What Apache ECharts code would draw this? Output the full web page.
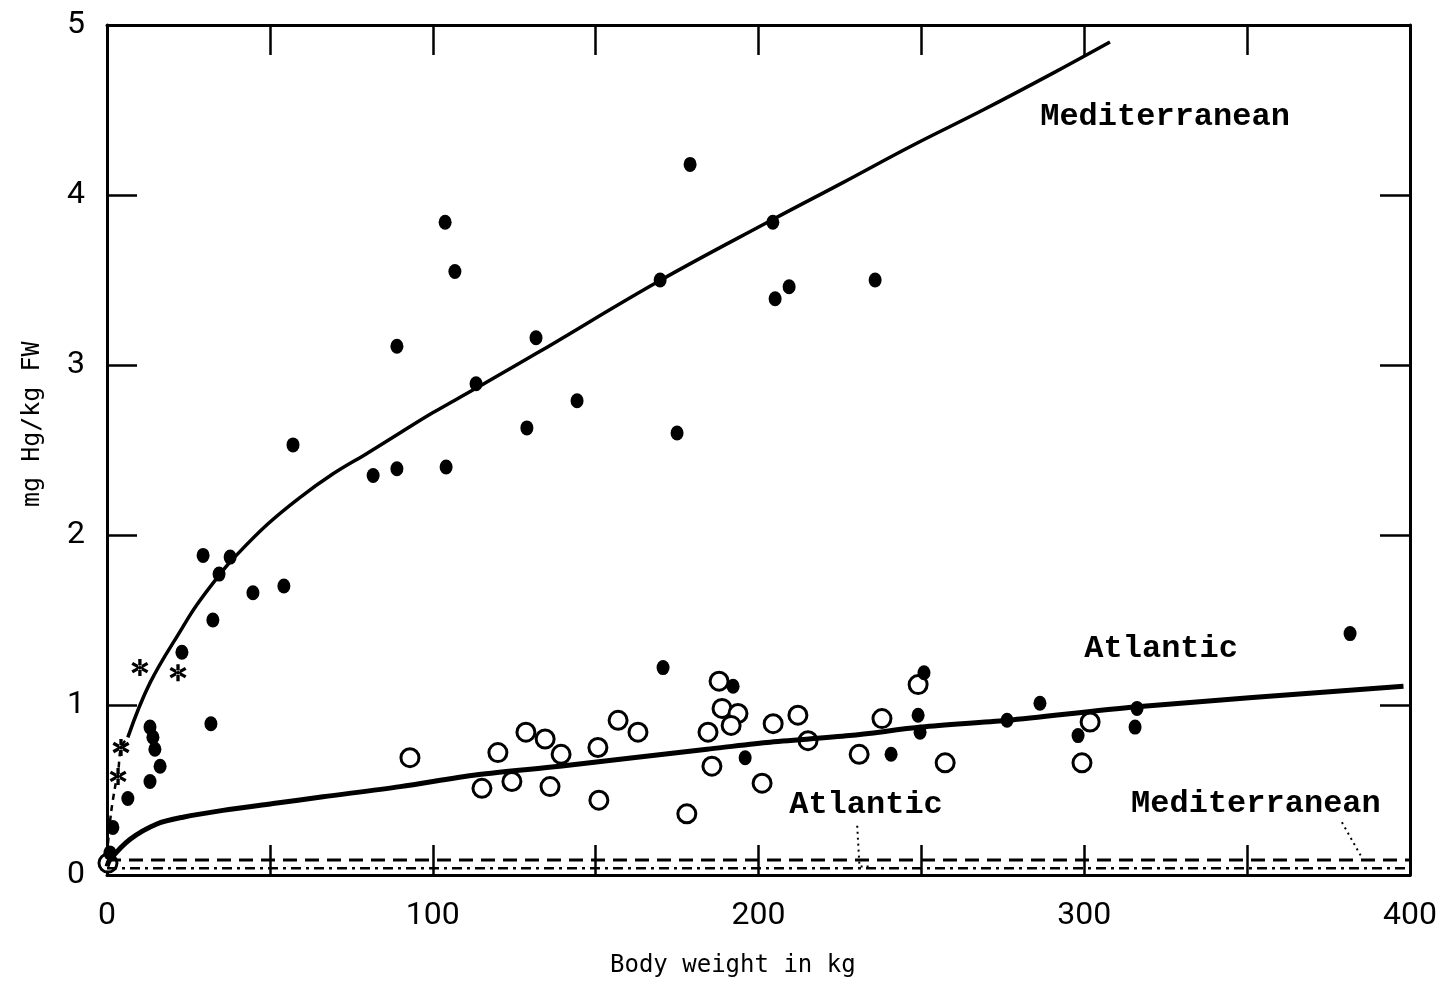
<!DOCTYPE html>
<html><head><meta charset="utf-8">
<script src="https://cdn.jsdelivr.net/npm/echarts@6/dist/echarts.min.js"></script>
<style>html,body{margin:0;padding:0;background:#fff;} #c{width:1450px;height:984px;}</style>
</head><body><div id="c"></div>
<script>
// ---- data (body weight kg, mg Hg/kg FW) ----
const filledDots = [
  [103.8,3.84],[106.8,3.55],[179.0,4.18],[204.4,3.84],[205.1,3.39],[209.4,3.46],[235.8,3.50],
  [169.8,3.50],[89.0,3.11],[131.7,3.16],[113.3,2.89],[144.3,2.79],[128.9,2.63],[175.0,2.60],
  [57.1,2.53],[81.7,2.35],[89.0,2.39],[104.1,2.40],[29.5,1.88],[37.8,1.87],[34.4,1.77],
  [44.8,1.66],[54.3,1.70],[32.5,1.50],[23.0,1.31],[31.9,0.89],[13.2,0.87],[14.1,0.81],
  [14.7,0.74],[16.3,0.64],[13.2,0.55],[6.4,0.45],[1.8,0.28],[0.9,0.13],
  [170.7,1.22],[192.2,1.11],[195.9,0.69],[240.7,0.71],[249.0,0.94],[249.6,0.84],[250.8,1.19],
  [276.3,0.91],[286.4,1.01],[298.1,0.82],[316.2,0.98],[315.6,0.87],[381.6,1.42]
];
const openCircles = [
  [0.3,0.07],[93.0,0.69],[115.1,0.51],[120.0,0.72],[124.3,0.55],[128.6,0.84],[134.5,0.80],
  [136.0,0.52],[139.4,0.71],[150.7,0.75],[151.0,0.44],[156.9,0.91],[163.0,0.84],[178.0,0.36],
  [187.9,1.14],[188.8,0.98],[193.7,0.95],[191.6,0.88],[184.5,0.84],[185.7,0.64],[201.1,0.54],
  [204.5,0.89],[212.1,0.94],[215.2,0.79],[230.9,0.71],[237.9,0.92],[249.0,1.12],[257.3,0.66],
  [301.8,0.90],[299.3,0.66]
];
const stars = [[10.1,1.22],[21.8,1.19],[4.3,0.75],[3.4,0.58]];
const medCurve = [
  [6.4,0.81],[13.2,1.13],[23.3,1.46],[27.6,1.59],[34.7,1.77],[38.7,1.86],[49.1,2.06],[59.2,2.22],
  [69.4,2.36],[79.8,2.48],[89.9,2.60],[100.1,2.72],[113.0,2.86],[132.0,3.07],
  [169.1,3.49],[203.8,3.85],[225.6,4.07],[247.1,4.29],[268.9,4.50],[290.7,4.72],[307.9,4.90]
];
const medCurveLow = [[0,0.12],[1.2,0.36],[2.5,0.52],[3.4,0.60],[4.3,0.75],[6.4,0.81]];
const atlCurve = [
  [0,0.05],[0.9,0.09],[7.1,0.21],[15.3,0.30],[23.3,0.34],[35.6,0.38],[51,0.42],[66.3,0.46],
  [90,0.52],[113.6,0.59],[139,0.64],[161.5,0.69],[184.2,0.74],[202.6,0.78],[228,0.82],
  [250,0.87],[276.3,0.91],[316.2,0.99],[398,1.11]
];
const medBaseline = [[0,0.088],[400,0.088]];
const atlBaseline = [[0,0.04],[400,0.04]];
const atlPointer = [[230.3,0.29],[231,0.05],[234,0.05]];
const medPointer = [[379.1,0.31],[385.3,0.10]];
const curveLabels = [
  {name:'Mediterranean', value:[324.8,4.46]},
  {name:'Atlantic', value:[323.6,1.33]},
  {name:'Atlantic', value:[233.0,0.41]},
  {name:'Mediterranean', value:[352.7,0.42]}
];
const xTickLabels = [0,100,200,300,400];
const yTickLabels = [0,1,2,3,4,5];
const xTitle = 'Body weight in kg';
const yTitle = 'mg Hg/kg FW';

const starPath = 'path://M-1.5,-8L1.5,-8L1.5,8L-1.5,8Z M6.18,5.3L7.68,2.7L-6.18,-5.3L-7.68,-2.7Z M-7.68,2.7L-6.18,5.3L7.68,-2.7L6.18,-5.3Z';

const axisLine = {show:true, onZero:false, lineStyle:{color:'#000', width:3}};
const axisTick = {show:true, inside:true, length:30, lineStyle:{color:'#000', width:2.5}};
const tickFont = {fontFamily:'Roboto', fontSize:32, color:'#000'};

const chart = echarts.init(document.getElementById('c'));
chart.setOption({
  animation:false,
  backgroundColor:'#fff',
  grid:{left:107, right:40, top:25, bottom:109},
  xAxis:[
    {type:'value', min:0, max:400, interval:50, position:'bottom', axisLine, axisTick,
     splitLine:{show:false},
     axisLabel:Object.assign({margin:25, formatter:v => xTickLabels.includes(v) ? String(v) : ''}, tickFont)},
    {type:'value', min:0, max:400, interval:50, position:'top', axisLine, axisTick,
     splitLine:{show:false}, axisLabel:{show:false}}
  ],
  yAxis:[
    {type:'value', min:0, max:5, interval:1, position:'left', axisLine, axisTick,
     splitLine:{show:false},
     axisLabel:Object.assign({margin:22, formatter:v => yTickLabels.includes(v) ? String(v) : ''}, tickFont)},
    {type:'value', min:0, max:5, interval:1, position:'right', axisLine, axisTick,
     splitLine:{show:false}, axisLabel:{show:false}}
  ],
  graphic:[
    {type:'text', left:610, top:954,
     style:{text:xTitle, fontFamily:'DejaVu Sans Mono', fontSize:24, fill:'#000'}},
    {type:'text', x:20, y:507, rotation:Math.PI/2, originX:0, originY:0,
     style:{text:yTitle, fontFamily:'DejaVu Sans Mono', fontSize:25, fill:'#000'}}
  ],
  series:[
    {type:'line', data:medBaseline, showSymbol:false, silent:true,
     lineStyle:{color:'#000', width:3, type:[14,8]}},
    {type:'line', data:atlBaseline, showSymbol:false, silent:true,
     lineStyle:{color:'#000', width:2.5, type:[10,5,3,5]}},
    {type:'line', data:atlPointer, showSymbol:false, silent:true,
     lineStyle:{color:'#000', width:2, type:[2,4]}},
    {type:'line', data:medPointer, showSymbol:false, silent:true,
     lineStyle:{color:'#000', width:2, type:[2,4]}},
    {type:'line', data:medCurve, showSymbol:false, smooth:0.4, silent:true,
     lineStyle:{color:'#000', width:3.5}},
    {type:'line', data:medCurveLow, showSymbol:false, smooth:0.3, silent:true,
     lineStyle:{color:'#000', width:2.5, type:[6,5]}},
    {type:'line', data:atlCurve, showSymbol:false, smooth:0.3, silent:true,
     lineStyle:{color:'#000', width:5}},
    {type:'scatter', data:openCircles, symbol:'circle', symbolSize:18,
     itemStyle:{color:'#fff', borderColor:'#000', borderWidth:3, opacity:1}},
    {type:'scatter', data:filledDots, symbol:'circle', symbolSize:[13,15],
     itemStyle:{color:'#000', opacity:1}},
    {type:'scatter', data:stars, symbol:starPath, symbolSize:17,
     itemStyle:{color:'#000', opacity:1}},
    {type:'scatter', data:curveLabels, symbolSize:1, silent:true,
     itemStyle:{color:'rgba(0,0,0,0)', opacity:1},
     label:{show:true, position:'inside', formatter:p => p.name,
       fontFamily:'Liberation Mono', fontWeight:'bold', fontSize:32, color:'#000'}}
  ]
});
</script></body></html>
